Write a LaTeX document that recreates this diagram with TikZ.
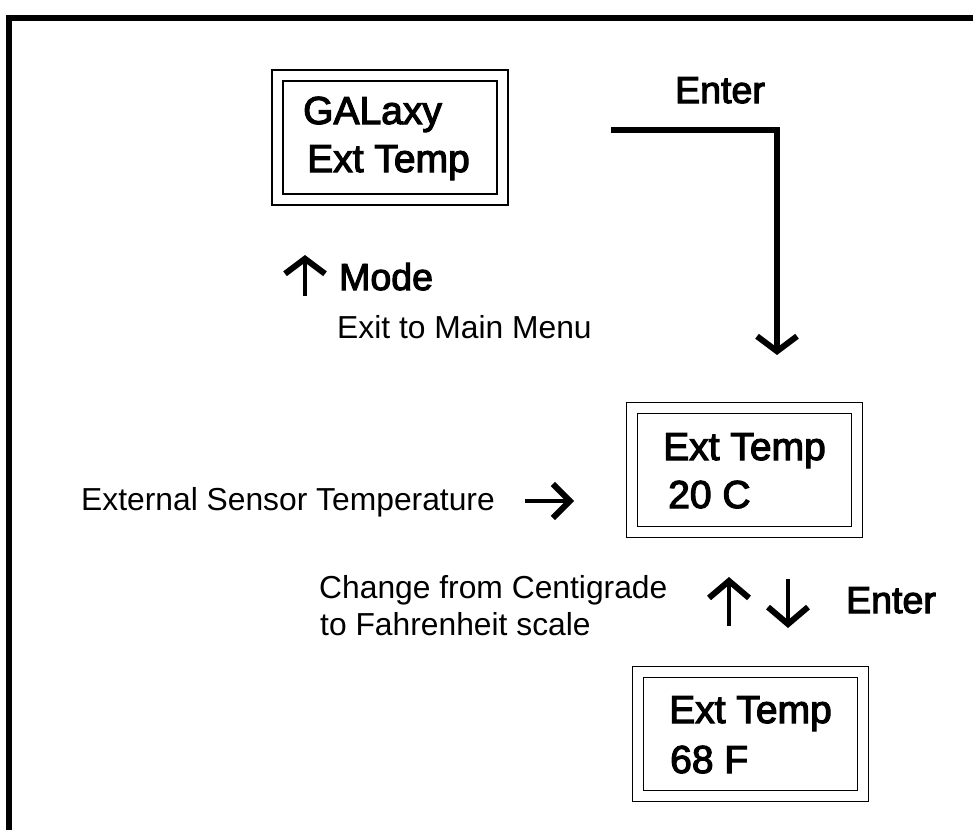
\documentclass[tikz,border=0pt]{standalone}
\usepackage{fontspec}
\setmainfont{Liberation Sans}
\newfontfamily\heavyfont[FakeBold=3]{Liberation Sans}
\usetikzlibrary{arrows.meta}
\tikzset{
  panel/.style={draw, double, line width=1.6pt, double distance=9.4pt,
    minimum width=225pt, minimum height=124pt, inner sep=0pt},
  bigtext/.style={anchor=base west, inner sep=0pt, font=\heavyfont\fontsize{39}{46}\selectfont},
  keytext/.style={anchor=base west, inner sep=0pt, font=\heavyfont\fontsize{37.5}{42}\selectfont},
  note/.style={anchor=base west, inner sep=0pt, font=\fontsize{31.8}{37}\selectfont},
  flow/.style={line width=4.5pt, -{Straight Barb[length=15pt,width=40pt,line width=6pt]}},
  frameline/.style={line width=6pt, line cap=butt},
}
\begin{document}
\begin{tikzpicture}[x=1pt,y=-1pt]
\useasboundingbox[fill=white] (0,0) rectangle (973,830);
% outer frame (top and left edges only visible)
\coordinate (fTL) at (8.5,18);
\coordinate (fTR) at (973,18);
\coordinate (fBL) at (8.5,830);
\draw[frameline] (fTR) -- (fTL) -- (fBL);

% panels
\node[panel] (b1) at (390,137.5) {};
\node[bigtext] (b1a) at (303,124) {GALaxy};
\node[bigtext] (b1b) at (307,172) {Ext Temp};

\node[panel] (b2) at (744.5,470) {};
\node[bigtext] (b2a) at (663,460) {Ext Temp};
\node[bigtext] (b2b) at (668,508) {20 C};

\node[panel] (b3) at (750.5,734) {};
\node[bigtext] (b3a) at (669,723) {Ext Temp};
\node[bigtext] (b3b) at (670,773) {68 F};

% Enter (top) connector
\node[keytext] (enter1) at (675,103) {Enter};
\coordinate (es) at (611,130);
\coordinate (ee) at (777,355);
\draw[flow, line width=5.5pt] (es) -| (ee);

% Mode
\coordinate (ms) at (305,296);
\coordinate (me) at (305,255);
\draw[flow] (ms) -- (me);
\node[keytext] (mode) at (339,290) {Mode};
\node[note] (exit) at (337,338) {Exit to Main Menu};

% External sensor
\node[note] (ext) at (81,510) {External Sensor Temperature};
\coordinate (rs) at (525,501);
\coordinate (re) at (574,501);
\draw[flow, -{Straight Barb[length=17pt,width=34pt,line width=6pt]}] (rs) -- (re);

% Change scale
\node[note] (chg1) at (319,598) {Change from Centigrade};
\node[note] (chg2) at (320,635) {to Fahrenheit scale};
\coordinate (us) at (729,626);
\coordinate (ue) at (729,577);
\draw[flow, -{Straight Barb[length=17pt,width=40pt,line width=6pt]}] (us) -- (ue);
\coordinate (ds) at (788,579);
\coordinate (de) at (788,628);
\draw[flow, -{Straight Barb[length=17pt,width=40pt,line width=6pt]}] (ds) -- (de);
\node[keytext] (enter2) at (846,613) {Enter};
\end{tikzpicture}
\end{document}
